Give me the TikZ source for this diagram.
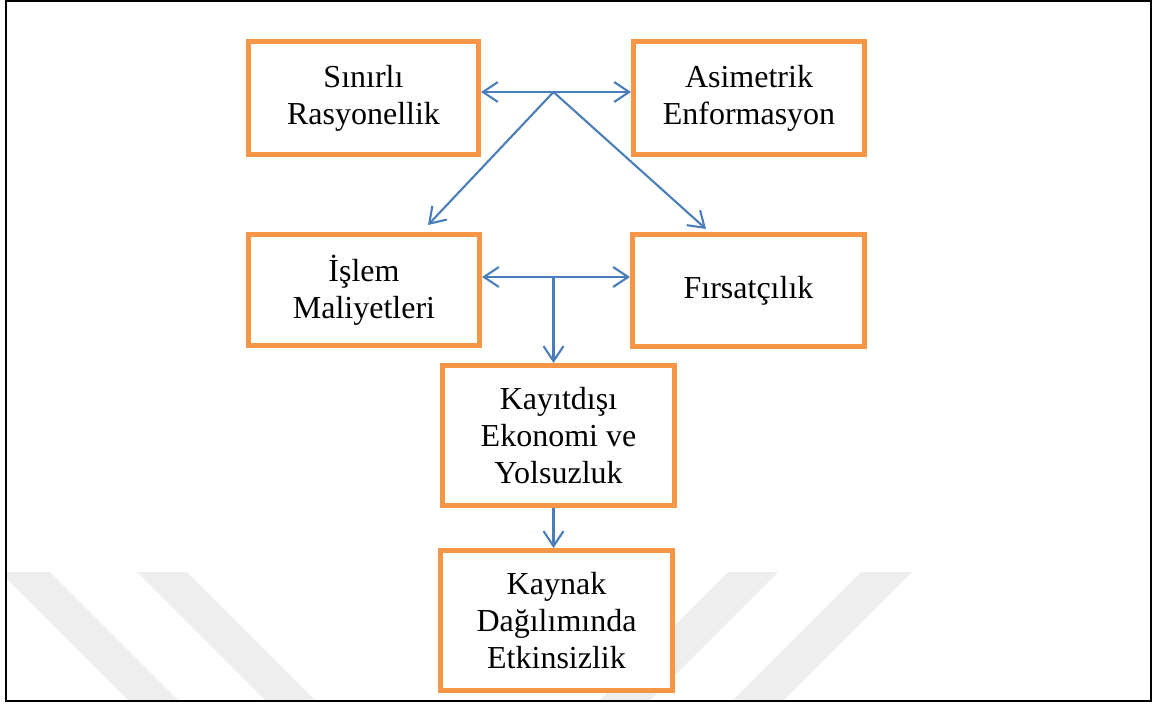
\documentclass[tikz,border=0pt]{standalone}
\usepackage{fontspec}
\setmainfont{Liberation Serif}
\usetikzlibrary{arrows.meta}
\definecolor{boxorange}{RGB}{247,150,70}
\definecolor{arrblue}{RGB}{74,126,187}
\definecolor{wm}{RGB}{238,238,238}
\tikzset{
  box/.style={draw=boxorange, line width=5pt, fill=white, align=center,
    inner sep=0pt, font=\fontsize{32}{37}\selectfont},
  arr/.style={draw=arrblue, line width=2.1pt,
    -{Straight Barb[length=15pt,width=20pt,line width=2.1pt]}},
  wmark/.style={fill=wm, draw=none}
}
\begin{document}
\begin{tikzpicture}[x=1pt,y=-1pt]
\useasboundingbox (0,0) rectangle (1157,706);
% watermark
\begin{scope}
\clip (6,1) rectangle (1151,701);
\fill[wmark] (0,572) -- (50,572) -- (179,701) -- (129,701) -- cycle;
\fill[wmark] (137,572) -- (187,572) -- (316,701) -- (266,701) -- cycle;
\fill[wmark] (728,572) -- (778,572) -- (649,701) -- (599,701) -- cycle;
\fill[wmark] (861,572) -- (912,572) -- (783,701) -- (732,701) -- cycle;
\end{scope}
% frame
\draw[line width=2.5pt] (6,1) rectangle (1151,701);
% boxes
\node[box, minimum width=230pt, minimum height=113pt] (sr) at (363.5,98) {Sınırlı\\Rasyonellik};
\node[box, minimum width=231pt, minimum height=113pt] (ae) at (749,98) {Asimetrik\\Enformasyon};
\node[box, minimum width=231pt, minimum height=111pt] (im) at (364,290) {İşlem\\Maliyetleri};
\node[box, minimum width=232pt, minimum height=112pt] (fr) at (748.5,290.5) {Fırsatçılık};
\node[box, minimum width=232pt, minimum height=140pt] (ke) at (558.5,435.5) {Kayıtdışı\\Ekonomi ve\\Yolsuzluk};
\node[box, minimum width=232pt, minimum height=140pt] (kd) at (556.5,620.5) {Kaynak\\Dağılımında\\Etkinsizlik};
% hubs
\coordinate (h1) at (553.5,92);
\coordinate (d1) at (428,225);
\coordinate (d2) at (706,229);
\coordinate (h2) at (553.5,277);
% connectors
\draw[arr] (h1) -- (h1 -| sr.east);
\draw[arr] (h1) -- (h1 -| ae.west);
\draw[arr] (h1) -- (d1);
\draw[arr] (h1) -- (d2);
\draw[arr] (h2) -- (h2 -| im.east);
\draw[arr] (h2) -- (h2 -| fr.west);
\draw[arr] (h2) -- (h2 |- ke.north);
\draw[arr] (ke.south -| h2) -- (kd.north -| h2);
\end{tikzpicture}
\end{document}
